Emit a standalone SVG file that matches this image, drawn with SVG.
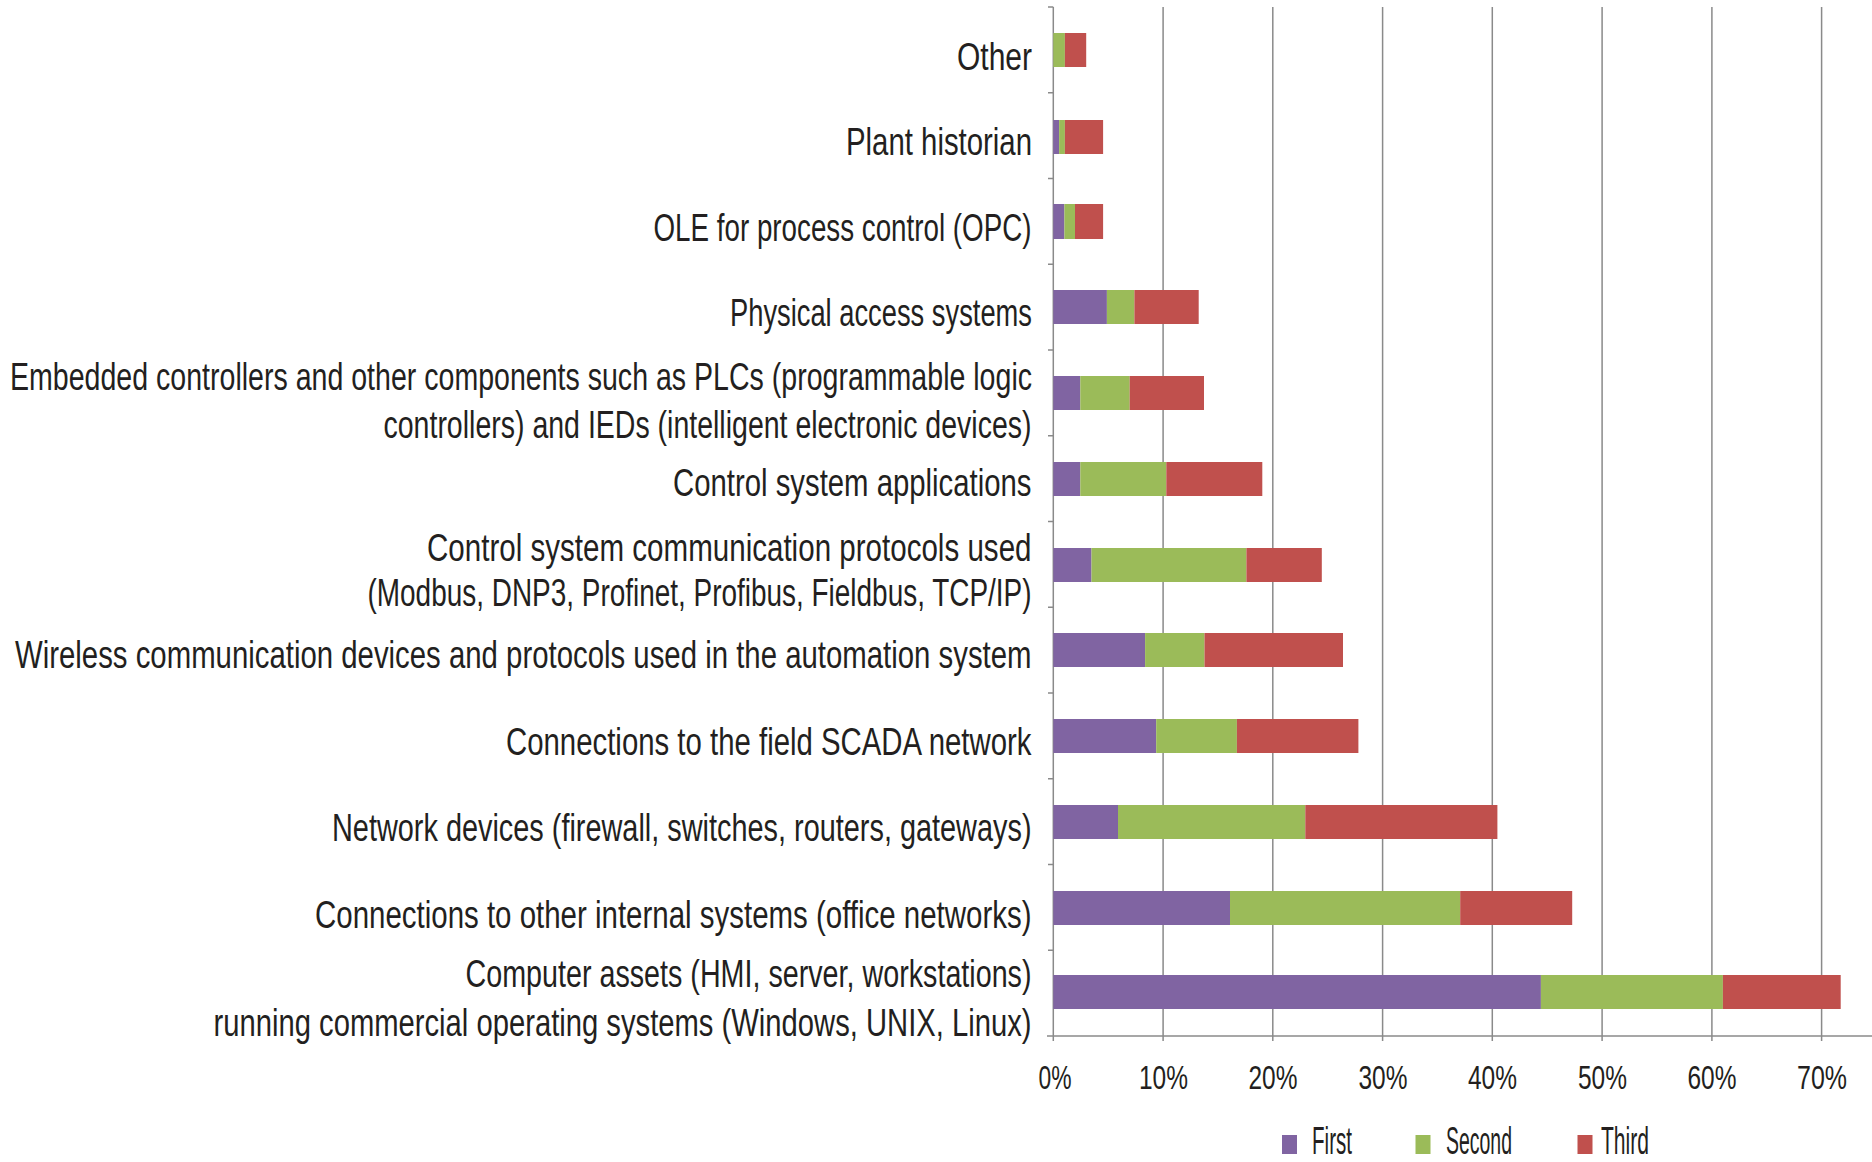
<svg xmlns="http://www.w3.org/2000/svg" width="1872" height="1162" viewBox="0 0 1872 1162">
<style>
.lbl{font-family:"Liberation Sans",Arial,sans-serif;font-size:38px;fill:#231f20}
.tk{font-family:"Liberation Sans",Arial,sans-serif;font-size:34px;fill:#231f20}
.lg{font-family:"Liberation Sans",Arial,sans-serif;font-size:38px;fill:#231f20}
.grid{stroke:#8a8a8a;stroke-width:1.5;fill:none}
.p{fill:#8064a2}
.g{fill:#9bbb59}
.r{fill:#c0504d}
</style>
<rect width="1872" height="1162" fill="#ffffff"/>
<g id="axes">
<path class="grid" d="M1053.3,7V1041M1163.1,7V1041M1272.8,7V1041M1382.6,7V1041M1492.3,7V1041M1602.1,7V1041M1711.9,7V1041M1821.6,7V1041"/>
<path class="grid" d="M1047,1036H1872"/>
<path class="grid" d="M1048,7H1053.3M1048,92.75H1053.3M1048,178.5H1053.3M1048,264.25H1053.3M1048,350H1053.3M1048,435.75H1053.3M1048,521.5H1053.3M1048,607.25H1053.3M1048,693H1053.3M1048,778.75H1053.3M1048,864.5H1053.3M1048,950.25H1053.3"/>
</g>
<g id="xticks">
<text class="tk" x="1038.5" y="1089" textLength="33" lengthAdjust="spacingAndGlyphs">0%</text>
<text class="tk" x="1139" y="1089" textLength="49" lengthAdjust="spacingAndGlyphs">10%</text>
<text class="tk" x="1248.5" y="1089" textLength="49" lengthAdjust="spacingAndGlyphs">20%</text>
<text class="tk" x="1358.5" y="1089" textLength="49" lengthAdjust="spacingAndGlyphs">30%</text>
<text class="tk" x="1468" y="1089" textLength="49" lengthAdjust="spacingAndGlyphs">40%</text>
<text class="tk" x="1578" y="1089" textLength="49" lengthAdjust="spacingAndGlyphs">50%</text>
<text class="tk" x="1687.5" y="1089" textLength="49" lengthAdjust="spacingAndGlyphs">60%</text>
<text class="tk" x="1797" y="1089" textLength="50" lengthAdjust="spacingAndGlyphs">70%</text>
</g>
<g id="cat-other">
<text class="lbl" x="957" y="70" textLength="75" lengthAdjust="spacingAndGlyphs">Other</text>
<rect class="g" x="1053.3" y="33" width="11.6" height="34"/>
<rect class="r" x="1064.9" y="33" width="21.3" height="34"/>
</g>
<g id="cat-plant-historian">
<text class="lbl" x="846" y="155" textLength="186" lengthAdjust="spacingAndGlyphs">Plant historian</text>
<rect class="p" x="1053.3" y="120" width="5.8" height="34"/>
<rect class="g" x="1059.1" y="120" width="5.8" height="34"/>
<rect class="r" x="1064.9" y="120" width="38.2" height="34"/>
</g>
<g id="cat-opc">
<text class="lbl" x="653.5" y="240.5" textLength="378" lengthAdjust="spacingAndGlyphs">OLE for process control (OPC)</text>
<rect class="p" x="1053.3" y="204" width="11.1" height="35"/>
<rect class="g" x="1064.4" y="204" width="10.6" height="35"/>
<rect class="r" x="1075" y="204" width="28.1" height="35"/>
</g>
<g id="cat-physical">
<text class="lbl" x="730" y="326" textLength="302" lengthAdjust="spacingAndGlyphs">Physical access systems</text>
<rect class="p" x="1053.3" y="290" width="53.6" height="34"/>
<rect class="g" x="1106.9" y="290" width="27.5" height="34"/>
<rect class="r" x="1134.4" y="290" width="64.3" height="34"/>
</g>
<g id="cat-embedded">
<text class="lbl" x="10" y="390" textLength="1022" lengthAdjust="spacingAndGlyphs">Embedded controllers and other components such as PLCs (programmable logic</text>
<text class="lbl" x="383.5" y="437.5" textLength="648" lengthAdjust="spacingAndGlyphs">controllers) and IEDs (intelligent electronic devices)</text>
<rect class="p" x="1053.3" y="376" width="27" height="34"/>
<rect class="g" x="1080.3" y="376" width="49.4" height="34"/>
<rect class="r" x="1129.7" y="376" width="74.3" height="34"/>
</g>
<g id="cat-apps">
<text class="lbl" x="673" y="496" textLength="358.5" lengthAdjust="spacingAndGlyphs">Control system applications</text>
<rect class="p" x="1053.3" y="462" width="27" height="34"/>
<rect class="g" x="1080.3" y="462" width="86" height="34"/>
<rect class="r" x="1166.3" y="462" width="96" height="34"/>
</g>
<g id="cat-protocols">
<text class="lbl" x="427" y="560.5" textLength="604.5" lengthAdjust="spacingAndGlyphs">Control system communication protocols used</text>
<text class="lbl" x="367.5" y="605.5" textLength="664" lengthAdjust="spacingAndGlyphs">(Modbus, DNP3, Profinet, Profibus, Fieldbus, TCP/IP)</text>
<rect class="p" x="1053.3" y="548" width="38.2" height="34"/>
<rect class="g" x="1091.5" y="548" width="154.9" height="34"/>
<rect class="r" x="1246.4" y="548" width="75.4" height="34"/>
</g>
<g id="cat-wireless">
<text class="lbl" x="15" y="668" textLength="1016.5" lengthAdjust="spacingAndGlyphs">Wireless communication devices and protocols used in the automation system</text>
<rect class="p" x="1053.3" y="633" width="91.8" height="34"/>
<rect class="g" x="1145.1" y="633" width="59.4" height="34"/>
<rect class="r" x="1204.5" y="633" width="138.5" height="34"/>
</g>
<g id="cat-scada">
<text class="lbl" x="506" y="754.5" textLength="525.5" lengthAdjust="spacingAndGlyphs">Connections to the field SCADA network</text>
<rect class="p" x="1053.3" y="719" width="102.9" height="34"/>
<rect class="g" x="1156.2" y="719" width="80.7" height="34"/>
<rect class="r" x="1236.9" y="719" width="121.5" height="34"/>
</g>
<g id="cat-network">
<text class="lbl" x="332" y="840.5" textLength="699.5" lengthAdjust="spacingAndGlyphs">Network devices (firewall, switches, routers, gateways)</text>
<rect class="p" x="1053.3" y="805" width="64.7" height="34"/>
<rect class="g" x="1118" y="805" width="187.3" height="34"/>
<rect class="r" x="1305.3" y="805" width="192.1" height="34"/>
</g>
<g id="cat-office">
<text class="lbl" x="315" y="927.5" textLength="716.5" lengthAdjust="spacingAndGlyphs">Connections to other internal systems (office networks)</text>
<rect class="p" x="1053.3" y="891" width="176.7" height="34"/>
<rect class="g" x="1230" y="891" width="230.2" height="34"/>
<rect class="r" x="1460.2" y="891" width="112" height="34"/>
</g>
<g id="cat-computer">
<text class="lbl" x="465.5" y="987" textLength="566" lengthAdjust="spacingAndGlyphs">Computer assets (HMI, server, workstations)</text>
<text class="lbl" x="213.5" y="1035.5" textLength="818" lengthAdjust="spacingAndGlyphs">running commercial operating systems (Windows, UNIX, Linux)</text>
<rect class="p" x="1053.3" y="975" width="487.6" height="34"/>
<rect class="g" x="1540.9" y="975" width="182" height="34"/>
<rect class="r" x="1722.9" y="975" width="117.8" height="34"/>
</g>
<g id="legend">
<rect class="p" x="1282" y="1135" width="15" height="19"/>
<text class="lg" x="1312" y="1154" textLength="40" lengthAdjust="spacingAndGlyphs">First</text>
<rect class="g" x="1415.5" y="1135" width="15" height="19"/>
<text class="lg" x="1446" y="1154" textLength="66" lengthAdjust="spacingAndGlyphs">Second</text>
<rect class="r" x="1577.5" y="1135" width="15" height="19"/>
<text class="lg" x="1601" y="1154" textLength="48" lengthAdjust="spacingAndGlyphs">Third</text>
</g>
</svg>
